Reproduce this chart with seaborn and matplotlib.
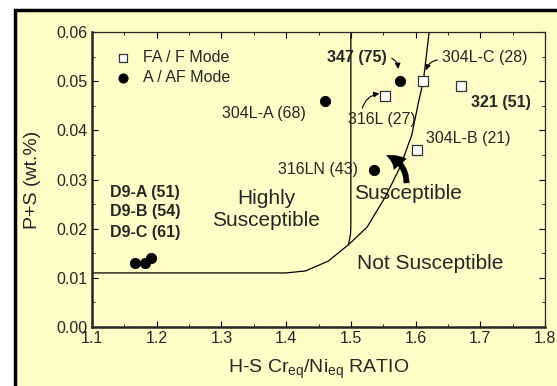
import matplotlib
matplotlib.use("Agg")
from matplotlib import pyplot as plt
from matplotlib.patches import Rectangle
from matplotlib.ticker import MultipleLocator
import pandas as pd
import seaborn as sns

# --- data
af_x = [1.460, 1.576, 1.536, 1.166, 1.182, 1.191]
af_y = [0.046, 0.050, 0.032, 0.013, 0.013, 0.014]
fa_x = [1.612, 1.670, 1.553, 1.602]
fa_y = [0.050, 0.049, 0.047, 0.036]

# boundary curves
curve_a_x = [1.10, 1.40, 1.43, 1.465, 1.496, 1.525, 1.553, 1.576, 1.594, 1.605, 1.612, 1.621]
curve_a_y = [0.011, 0.011, 0.0114, 0.0134, 0.0167, 0.0203, 0.0264, 0.0325, 0.039, 0.046, 0.050, 0.060]
curve_b_x = [1.5, 1.5, 1.4995, 1.498, 1.496]
curve_b_y = [0.060, 0.0205, 0.019, 0.0178, 0.0167]

bg = "#FFFCC8"
sns.set_style("ticks")
plt.rcParams["font.family"] = ["Liberation Sans", "DejaVu Sans"]

fig = plt.figure(figsize=(5.57, 3.86), dpi=100)
fig.patch.set_facecolor("white")
fig.patches.append(Rectangle((15 / 557, -0.1), 1.2, 1.1 - 10 / 386,
                             transform=fig.transFigure, facecolor=bg,
                             edgecolor="black", linewidth=2.5, zorder=-5))
ax = fig.add_axes([92 / 557, 59 / 386, 453 / 557, 295 / 386])
ax.set_zorder(2)
ax.set_facecolor(bg)

ax.plot(curve_a_x, curve_a_y, color="black", lw=0.9)
ax.plot(curve_b_x, curve_b_y, color="black", lw=0.9)

df_fa = pd.DataFrame({"x": fa_x, "y": fa_y})
df_af = pd.DataFrame({"x": af_x, "y": af_y})
sns.scatterplot(data=df_fa, x="x", y="y", marker="s", s=45, color="white",
                edgecolor="#333333", linewidth=0.9, ax=ax, zorder=3,
                label="FA / F Mode")
sns.scatterplot(data=df_af, x="x", y="y", marker="o", s=55, color="black",
                edgecolor="black", ax=ax, zorder=3, label="A / AF Mode")

leg = ax.legend(loc="upper left", frameon=False, fontsize=11.5, handletextpad=0.25,
                borderaxespad=0.0, labelspacing=0.3, markerscale=0.9,
                bbox_to_anchor=(0.02, 0.96))

ax.set_xlim(1.1, 1.8)
ax.set_ylim(0.0, 0.06)
ax.xaxis.set_major_locator(MultipleLocator(0.1))
ax.xaxis.set_minor_locator(MultipleLocator(0.05))
ax.yaxis.set_major_locator(MultipleLocator(0.01))
ax.yaxis.set_minor_locator(MultipleLocator(0.005))
ax.xaxis.set_major_formatter(plt.FuncFormatter(lambda v, p: f"{v:.1f}"))
ax.yaxis.set_major_formatter(plt.FuncFormatter(lambda v, p: f"{v:.2f}"))
ax.tick_params(which="both", direction="in", top=True, right=True,
               labelsize=11.5, color="black")
ax.tick_params(which="major", length=4)
ax.tick_params(which="minor", length=2.5)
ax.tick_params(axis="x", pad=3)
for side in ["left", "bottom"]:
    ax.spines[side].set_linewidth(1.8)
for side in ["top", "right"]:
    ax.spines[side].set_linewidth(0.9)

ax.set_xlabel("H-S Cr$_{\\mathregular{eq}}$/Ni$_{\\mathregular{eq}}$ RATIO", fontsize=14, labelpad=8)
ax.set_ylabel("P+S (wt.%)", fontsize=14, labelpad=11)

fs = 11.5
ax.text(1.366, 0.0435, "304L-A (68)", fontsize=fs, ha="center", va="center")
ax.text(1.450, 0.032, "316LN (43)", fontsize=fs, ha="center", va="center")
ax.text(1.682, 0.0384, "304L-B (21)", fontsize=fs, ha="center", va="center")
ax.text(1.732, 0.0456, "321 (51)", fontsize=fs, ha="center", va="center", weight="bold")
for lbl, yy in zip(["D9-A (51)", "D9-B (54)", "D9-C (61)"], [0.0274, 0.0234, 0.0193]):
    ax.text(1.128, yy, lbl, fontsize=fs, ha="left", va="center", weight="bold")

ax.annotate("347 (75)", xy=(1.573, 0.0525), xytext=(1.51, 0.0549),
            fontsize=fs, weight="bold", ha="center", va="center",
            arrowprops=dict(arrowstyle="-|>", color="black", lw=0.8,
                            connectionstyle="arc3,rad=-0.4", shrinkA=1, shrinkB=0,
                            mutation_scale=8, relpos=(1.0, 0.5)))
ax.annotate("304L-C (28)", xy=(1.616, 0.0522), xytext=(1.707, 0.0549),
            fontsize=fs, ha="center", va="center",
            arrowprops=dict(arrowstyle="-|>", color="black", lw=0.8,
                            connectionstyle="arc3,rad=0.4", shrinkA=1, shrinkB=0,
                            mutation_scale=8, relpos=(0.0, 0.3)))
ax.annotate("316L (27)", xy=(1.544, 0.0475), xytext=(1.548, 0.0423),
            fontsize=fs, ha="center", va="center",
            arrowprops=dict(arrowstyle="-|>", color="black", lw=0.8,
                            connectionstyle="arc3,rad=-0.35", shrinkA=0, shrinkB=0,
                            mutation_scale=8, relpos=(0.2, 1.0)))

ax.text(1.369, 0.024, "Highly\nSusceptible", fontsize=15, ha="center",
        va="center", linespacing=1.2)
ax.text(1.588, 0.0272, "Susceptible", fontsize=15, ha="center", va="center")
ax.text(1.622, 0.013, "Not Susceptible", fontsize=15, ha="center", va="center")
ax.annotate("", xy=(1.555, 0.0349), xytext=(1.586, 0.0293),
            arrowprops=dict(arrowstyle="simple,head_length=0.9,head_width=0.9,tail_width=0.3",
                            color="black", lw=0.3,
                            connectionstyle="arc3,rad=0.35", mutation_scale=13,
                            shrinkA=0, shrinkB=0))

fig.savefig("out.png", dpi=100, facecolor=fig.get_facecolor())
